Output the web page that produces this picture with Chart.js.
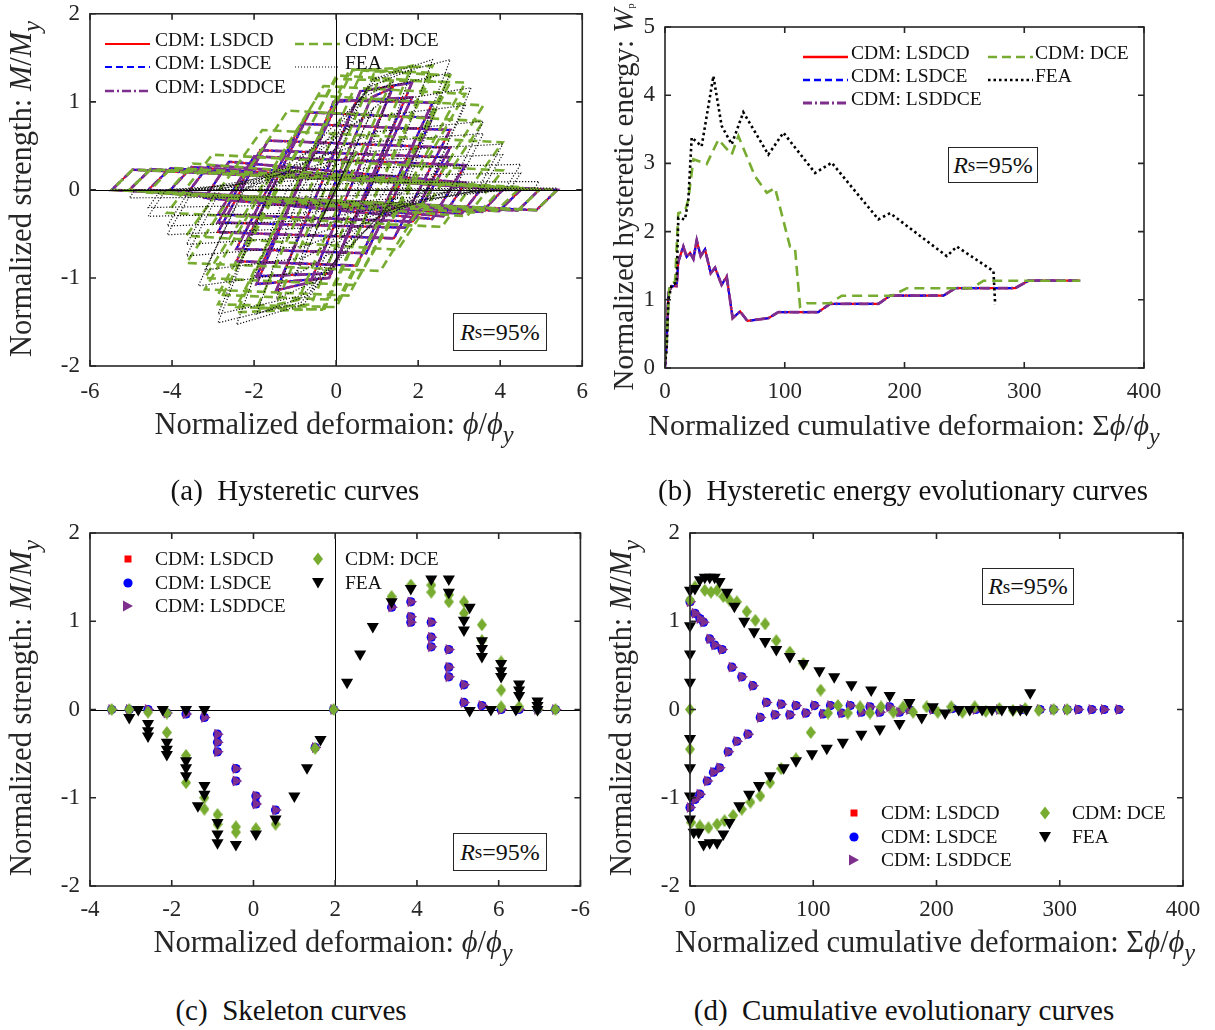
<!DOCTYPE html>
<html>
<head>
<meta charset="utf-8">
<script src="https://cdn.jsdelivr.net/npm/chart.js@4.4.0/dist/chart.umd.min.js"></script>
<style>
html,body{margin:0;padding:0;background:#fff;}
body{width:1215px;height:1030px;position:relative;overflow:hidden;}
canvas{position:absolute;}
.t{position:absolute;font-family:'Liberation Serif','Times New Roman',Times,serif;color:#262626;white-space:nowrap;line-height:1.15;z-index:5;}
.xt{font-size:30.5px;transform:translateX(-50%);}
.yt{font-size:30.5px;transform:translate(-50%,-50%) rotate(-90deg);}
.cap{font-size:29px;color:#111;transform:translateX(-50%);}
.sub{font-size:0.8em;position:relative;top:0.38em;}
.lg{font-size:19.5px;height:24px;line-height:24px;color:#111;}
.rs{position:absolute;border:1.2px solid #262626;background:#fff;font-family:'Liberation Serif','Times New Roman',Times,serif;font-size:24px;color:#111;display:flex;align-items:center;justify-content:center;z-index:5;box-sizing:border-box;}
.sw{position:absolute;z-index:5;}
</style>
</head>
<body>
<canvas id="ca" width="600" height="460" style="left:0px;top:-10px;"></canvas>
<canvas id="cb" width="615" height="460" style="left:600px;top:-10px;"></canvas>
<canvas id="cc" width="600" height="440" style="left:0px;top:500px;"></canvas>
<canvas id="cd" width="615" height="440" style="left:600px;top:500px;"></canvas>

<!-- axis titles -->
<div class="t yt" style="left:22px;top:189px;">Normalized strength: <i>M</i>/<i>M</i><span class="sub"><i>y</i></span></div>
<div class="t xt" style="left:334px;top:407px;">Normalized deformaion: <i>ϕ</i>/<i>ϕ</i><span class="sub"><i>y</i></span></div>
<div class="t cap" style="left:295px;top:474px;">(a)&nbsp; Hysteretic curves</div>

<div class="t yt" style="left:624px;top:197px;font-size:29px;">Normalized hysteretic energy: <i>W</i><span style="font-size:0.35em;position:relative;top:0.1em;">p</span></div>
<div class="t xt" style="left:904px;top:408px;font-size:30px;">Normalized cumulative deformaion: Σ<i>ϕ</i>/<i>ϕ</i><span class="sub"><i>y</i></span></div>
<div class="t cap" style="left:903px;top:474px;">(b)&nbsp; Hysteretic energy evolutionary curves</div>

<div class="t yt" style="left:22px;top:708px;">Normalized strength: <i>M</i>/<i>M</i><span class="sub"><i>y</i></span></div>
<div class="t xt" style="left:333px;top:925px;">Normalized deformaion: <i>ϕ</i>/<i>ϕ</i><span class="sub"><i>y</i></span></div>
<div class="t cap" style="left:291px;top:994px;">(c)&nbsp; Skeleton curves</div>

<div class="t yt" style="left:622px;top:708px;">Normalized strength: <i>M</i>/<i>M</i><span class="sub"><i>y</i></span></div>
<div class="t xt" style="left:935px;top:925px;">Normalized cumulative deformaion: Σ<i>ϕ</i>/<i>ϕ</i><span class="sub"><i>y</i></span></div>
<div class="t cap" style="left:904px;top:994px;">(d)&nbsp; Cumulative evolutionary curves</div>

<div class="rs" style="left:453px;top:313px;width:94px;height:38px;"><i>R</i><span style="font-size:0.8em">s</span>=95%</div>
<div class="rs" style="left:948px;top:147px;width:90px;height:36px;"><i>R</i><span style="font-size:0.8em">s</span>=95%</div>
<div class="rs" style="left:453px;top:833px;width:94px;height:38px;"><i>R</i><span style="font-size:0.8em">s</span>=95%</div>
<div class="rs" style="left:982px;top:568px;width:92px;height:37px;"><i>R</i><span style="font-size:0.8em">s</span>=95%</div>

<script>
// ---------------- DATA ----------------
// (a) Hysteretic curves: M/My vs phi/phiy (loop vertices)
const aCdmX = [0, 0.5, -0.49, 0.86, 1.38, -0.63, -1.46, 0.59, 1.85, -0.17, -1.94, -0.06, 1.85, -0.15, -1.94, 0.06, 2.35, 0.5, -2.43, -0.65, 2.35, 0.73, -2.43, -0.85, 2.78, 1.41, -2.88, -1.66, 2.78, 1.71, -2.88, -1.85, 2.78, 1.87, -2.88, -2.0, 3.15, 2.34, -3.2, -2.61, 3.15, 2.61, -3.65, -3.1, 3.59, 3.06, -4.12, -3.52, 4.06, 3.56, -4.58, -4.04, 4.5, 3.97, -5.04, -4.52, 4.95, 4.43, -5.47, -4.96, 5.39, 4.88, -5.47];
const aCdmY = [0, 0.44, -0.43, 1.05, 1.16, -1.05, -1.14, 1.12, 1.22, -1.0, -1.07, 1.0, 1.05, -0.95, -0.98, 1.02, 0.99, -0.86, -0.81, 0.88, 0.82, -0.72, -0.67, 0.75, 0.68, -0.55, -0.48, 0.56, 0.48, -0.43, -0.37, 0.45, 0.37, -0.36, -0.28, 0.38, 0.28, -0.33, -0.09, 0.32, 0.08, -0.3, -0.05, 0.28, 0.045, -0.27, -0.04, 0.26, 0, -0.25, 0, 0.245, 0, -0.24, 0, 0.235, 0, -0.235, 0, 0.23, 0, -0.23, 0];
const aDceX = [0, 0.5, -0.49, 1.0, 1.38, -0.92, -1.46, 0.92, 1.85, -0.61, -1.94, 0.64, 2.35, -0.28, -2.43, 0.33, 2.35, -0.34, -2.43, 0.4, 2.78, 0.01, -2.88, 0.01, 2.78, 0.04, -2.88, 0.0, 3.15, 0.3, -3.2, -0.31, 3.15, 0.44, -3.2, -0.44, 3.59, 1.08, -3.65, -1.18, 3.59, 1.5, -3.65, -1.8, 4.06, 2.58, -4.12, -3.02, 4.06, 3.19, -4.12, -3.5, 4.06, 3.48, -4.58, -4.02, 4.5, 3.9, -5.04, -4.52, 4.95, 4.44, -5.47, -4.96, 5.39, 4.88, -5.47];
const aDceY = [0, 0.44, -0.44, 1.2, 1.28, -1.25, -1.30, 1.32, 1.41, -1.3, -1.35, 1.36, 1.41, -1.35, -1.39, 1.37, 1.33, -1.36, -1.33, 1.36, 1.30, -1.33, -1.30, 1.3, 1.22, -1.25, -1.19, 1.26, 1.22, -1.2, -1.13, 1.18, 1.09, -1.08, -1.0, 1.07, 0.96, -0.92, -0.83, 0.9, 0.78, -0.68, -0.52, 0.68, 0.54, -0.42, -0.26, 0.4, 0.22, -0.3, -0.04, 0.3, 0.03, -0.26, -0.03, 0.25, 0.03, -0.24, 0, 0.235, 0, -0.23, 0, 0.23, 0, -0.23, 0];
const aFeaX = [0, 0.29, -0.36, 0.61, -0.69, 0.92, -1.0,
  -0.3, 0.62, 1.38, 0.51, -0.57, -1.46,
  -0.57, 0.76, 1.85, 0.84, -0.69, -1.94,
  -0.86, 0.9, 2.35, 1.21, -0.79, -2.43,
  -1.21, 0.98, 2.78, 1.6, -0.86, -2.88,
  -1.62, 0.8, 2.78, 1.67, -0.83, -2.88,
  -1.6, 1.09, 3.29, 2.24, -0.84, -3.36,
  -2.27, 0.71, 3.15, 2.19, -0.77, -3.2,
  -2.24, 0.97, 3.59, 2.77, -0.76, -3.65,
  -2.82, 0.71, 3.59, 2.88, -0.71, -3.65,
  -2.92, 0.92, 4.06, 3.45, -0.71, -4.12,
  -3.48, 0.67, 4.06, 3.56, -0.66, -4.12,
  -3.57, 0.87, 4.5, 4.11, -0.67, -4.58,
  -4.15, 0.61, 4.5, 4.23, -0.62, -4.58,
  -4.27, 0.8, 4.95, 4.8, -0.61, -5.04,
  -4.9, 5.39, 5.36, -5.47];
const aFeaY = [0, 0.31, -0.34, 0.63, -0.66, 0.94, -0.98,
  0, 1.04, 1.22, 0, -1.05, -1.24,
  0, 1.16, 1.37, 0, -1.2, -1.41,
  0, 1.26, 1.48, 0, -1.3, -1.53,
  0, 1.26, 1.48, 0, -1.28, -1.51,
  0, 1.13, 1.33, 0, -1.2, -1.41,
  0, 0.99, 1.16, 0, -0.93, -1.09,
  0, 0.82, 0.96, 0, -0.77, -0.91,
  0, 0.66, 0.78, 0, -0.64, -0.75,
  0, 0.54, 0.64, 0, -0.53, -0.62,
  0, 0.44, 0.52, 0, -0.43, -0.51,
  0, 0.34, 0.40, 0, -0.35, -0.41,
  0, 0.25, 0.29, 0, -0.26, -0.30,
  0, 0.16, 0.19, 0, -0.17, -0.2,
  0, 0.08, 0.095, 0, -0.08, -0.09,
  0, 0.02, 0, 0];

// (b) Hysteretic energy Wp vs cumulative deformation
const bCdmX = [0, 1.4, 2.8, 5.6, 9.7, 11.1, 15.3, 18.1, 20.9, 23.7, 26.5, 29.8, 33.4, 38.2, 41.8, 47.3, 51.5, 56.5, 62.7, 68.8, 86.3, 94.7, 128, 137.8, 178.2, 188, 232.5, 242.3, 292.4, 303.5, 346.7];
const bCdmY = [0.02, 0.37, 1.10, 1.20, 1.20, 1.56, 1.78, 1.63, 1.69, 1.60, 1.87, 1.64, 1.74, 1.39, 1.47, 1.22, 1.34, 0.73, 0.83, 0.69, 0.73, 0.82, 0.82, 0.94, 0.94, 1.06, 1.06, 1.17, 1.17, 1.28, 1.28];
const bDceX = [0, 1.4, 3.6, 8.4, 11.1, 16.7, 19.5, 23.7, 34.8, 44.6, 55.7, 61.3, 75.2, 85, 91.9, 104.4, 108.6, 112.8, 118.4, 138, 147.6, 189.4, 202, 256, 266, 346.7];
const bDceY = [0.1, 0.41, 1.2, 1.27, 2.27, 2.30, 2.47, 3.06, 2.99, 3.35, 3.13, 3.40, 2.81, 2.57, 2.64, 1.78, 1.75, 0.90, 0.95, 0.95, 1.06, 1.06, 1.17, 1.17, 1.28, 1.28];
const bFeaX = [0, 1.4, 2.8, 5.6, 9.7, 11.1, 16.7, 19.5, 22.3, 30.6, 40.4, 47.3, 55.7, 65.4, 86.3, 98.9, 125.3, 139.2, 178.2, 188, 235.3, 243.7, 274.3, 275.7];
const bFeaY = [0.05, 0.29, 1.0, 1.22, 1.25, 2.2, 2.18, 2.47, 3.38, 3.25, 4.28, 3.55, 3.28, 3.75, 3.13, 3.45, 2.86, 3.01, 2.18, 2.27, 1.64, 1.78, 1.42, 0.93];

// (c) Skeleton curves (x positions as on the plotted axis)
const cXTickLabels = ['-4', '-2', '0', '2', '4', '6', '-6'];
const cCdmX = [1.96, 3.38, 3.85, 3.85, 3.85, 4.35, 4.35, 4.35, 4.78, 4.78, 4.78, 5.15, 5.15, 5.59, 6.06, 6.5, 6.95, 7.39,
  -3.47, -3.04, -2.58, -2.12, -1.65, -1.2, -0.88, -0.88, -0.88, -0.43, -0.43, 0.06, 0.06, 0.54, 1.51];
const cCdmY = [0, 1.16, 1.22, 1.05, 0.99, 0.99, 0.82, 0.71, 0.68, 0.48, 0.37, 0.28, 0.08, 0.045, 0, 0, 0, 0,
  0, 0, 0, -0.04, -0.05, -0.09, -0.28, -0.37, -0.48, -0.67, -0.81, -0.98, -1.07, -1.14, -0.43];
const cDceX = [3.38, 3.85, 4.35, 4.35, 4.78, 4.78, 5.15, 5.15, 5.59, 5.59, 6.06, 6.06, 6.06, 6.5, 6.95, 7.39,
  -3.47, -3.04, -2.58, -2.12, -2.12, -1.65, -1.65, -1.2, -1.2, -0.88, -0.88, -0.43, -0.43, 0.06, 0.54, 1.51, 1.96];
const cDceY = [1.28, 1.41, 1.41, 1.33, 1.30, 1.22, 1.22, 1.09, 0.96, 0.78, 0.54, 0.22, 0.03, 0.03, 0, 0,
  0, 0, -0.03, -0.04, -0.26, -0.52, -0.83, -1.0, -1.13, -1.19, -1.30, -1.33, -1.39, -1.35, -1.30, -0.44, 0];
const cFeaX = [2.29, 2.61, 2.92, 3.38, 3.85, 4.35, 4.78, 4.78, 5.29, 5.15, 5.15, 5.59, 5.59, 5.59, 6.06, 6.06, 6.06, 6.5, 6.5, 6.5, 6.95, 6.95, 5.29, 5.81, 6.42, 6.95,
  -3.04, -2.82, -2.58, -2.58, -2.58, -2.22, -2.12, -2.12, -2.12, -1.65, -1.65, -1.65, -1.65, -1.2, -1.2, -1.2, -1.36, -0.88, -0.88, -0.88, -0.43, 0.06, 0.54, 1.0, 1.31, 1.64];
const cFeaY = [0.31, 0.63, 0.94, 1.22, 1.37, 1.48, 1.48, 1.33, 1.16, 1.01, 0.90, 0.78, 0.69, 0.60, 0.52, 0.44, 0.375, 0.29, 0.22, 0.16, 0.095, 0.045, -0.01, 0, 0, 0,
  -0.09, 0, -0.16, -0.24, -0.30, 0, -0.37, -0.45, -0.51, 0, -0.58, -0.66, -0.75, 0, -0.86, -0.96, -1.09, -1.28, -1.41, -1.51, -1.53, -1.41, -1.24, -0.98, -0.66, -0.34];

// (d) Cumulative evolutionary curves
const dCdmUpX = [0, 4, 8, 11, 16, 20, 26, 34, 42, 51, 62, 74, 86, 101, 114, 130, 146, 162, 178, 197, 213, 232, 251, 270, 284, 295, 306, 315, 326, 336, 348];
const dCdmUpY = [1.22, 1.09, 1.03, 0.99, 0.80, 0.73, 0.68, 0.48, 0.37, 0.27, 0.08, 0.06, 0.045, 0.045, 0.045, 0.045, 0.03, 0.03, 0, 0, 0.01, 0, 0, 0, 0, 0, 0, 0, 0, 0, 0];
const dCdmLowX = [0, 4, 8, 14, 19, 24, 31, 38, 47, 57, 69, 81, 94, 108, 123, 139, 154, 170];
const dCdmLowY = [-1.11, -1.02, -0.96, -0.81, -0.71, -0.66, -0.48, -0.36, -0.28, -0.09, -0.06, -0.06, -0.04, -0.05, -0.04, -0.03, -0.03, -0.03];
const dDceUpX = [0, 4, 12, 17, 22, 27, 32, 38, 46, 53, 61, 70, 81, 92, 106, 120, 138, 155, 173, 192, 212, 231, 251, 272, 295];
const dDceUpY = [1.24, 1.39, 1.35, 1.33, 1.35, 1.28, 1.24, 1.22, 1.11, 1.01, 0.97, 0.78, 0.65, 0.52, 0.22, 0.045, 0.03, 0.03, 0.03, 0.03, 0.03, 0.03, 0.01, 0.01, 0];
const dDceLowX = [0, 0, 1, 8, 15, 22, 28, 35, 42, 49, 57, 65, 74, 86, 98, 112, 128, 146, 165, 181, 201, 221, 240, 262, 283, 306];
const dDceLowY = [0, -0.45, -1.28, -1.32, -1.34, -1.30, -1.26, -1.20, -1.13, -1.05, -0.98, -0.83, -0.67, -0.56, -0.26, -0.04, -0.04, -0.04, -0.03, -0.03, -0.03, -0.03, -0.02, -0.01, -0.01, 0];
const dFeaUpX = [0, 0, 0, 0, 4, 8, 12, 16, 20, 24, 30, 36, 44, 52, 61, 70, 81, 92, 105, 117, 131, 147, 162, 178, 197, 218, 237, 253, 262, 273, 276];
const dFeaUpY = [1.35, 0.95, 0.63, 0.31, 1.37, 1.47, 1.50, 1.50, 1.50, 1.45, 1.33, 1.17, 1.0, 0.88, 0.77, 0.68, 0.60, 0.52, 0.44, 0.37, 0.28, 0.22, 0.16, 0.08, 0.03, 0, 0, 0, 0, 0, 0.19];
const dFeaLowX = [0, 0, 0, 0, 3, 7, 11, 16, 22, 27, 32, 40, 48, 56, 65, 76, 86, 99, 111, 124, 139, 154, 170, 188, 207, 227, 245, 268];
const dFeaLowY = [-0.33, -0.66, -0.98, -1.24, -1.39, -1.39, -1.53, -1.51, -1.51, -1.41, -1.28, -1.09, -0.96, -0.86, -0.75, -0.66, -0.58, -0.50, -0.44, -0.37, -0.28, -0.22, -0.16, -0.09, -0.04, 0, 0, 0];

// ---------------- STYLE ----------------
const FONT = "'Liberation Serif','Times New Roman',Times,serif";
const COL = {red:'#FF0000', blue:'#0000FF', purple:'#7E2F8E', green:'#77AC30', black:'#000000'};
const AXC = '#262626';

function pts(xs, ys) { return xs.map((x, i) => ({x: x, y: ys[i]})); }

const matlabBox = {
  id: 'matlabBox',
  beforeDatasetsDraw(chart, args, o) { if (o.zeroBelow) drawZero(chart, o); },
  afterDatasetsDraw(chart, args, o) {
    if (!o.zeroBelow) drawZero(chart, o);
    const ctx = chart.ctx, a = chart.chartArea, sx = chart.scales.x, sy = chart.scales.y;
    ctx.save();
    ctx.strokeStyle = AXC; ctx.lineWidth = 1.6; ctx.setLineDash([]);
    ctx.strokeRect(a.left, a.top, a.right - a.left, a.bottom - a.top);
    ctx.beginPath();
    const L = 6;
    sx.ticks.forEach(t => { const p = sx.getPixelForValue(t.value);
      ctx.moveTo(p, a.bottom); ctx.lineTo(p, a.bottom - L); ctx.moveTo(p, a.top); ctx.lineTo(p, a.top + L); });
    sy.ticks.forEach(t => { const p = sy.getPixelForValue(t.value);
      ctx.moveTo(a.left, p); ctx.lineTo(a.left + L, p); ctx.moveTo(a.right, p); ctx.lineTo(a.right - L, p); });
    ctx.stroke();
    ctx.restore();
  }
};
function drawZero(chart, o) {
  const ctx = chart.ctx, a = chart.chartArea, sx = chart.scales.x, sy = chart.scales.y;
  ctx.save(); ctx.strokeStyle = '#000'; ctx.lineWidth = 1; ctx.setLineDash([]);
  ctx.beginPath();
  if (o.zeroX !== undefined) { const p = Math.round(sx.getPixelForValue(o.zeroX)) + 0.5; ctx.moveTo(p, a.top); ctx.lineTo(p, a.bottom); }
  if (o.zeroY !== undefined) { const p = Math.round(sy.getPixelForValue(o.zeroY)) + 0.5; ctx.moveTo(a.left, p); ctx.lineTo(a.right, p); }
  ctx.stroke(); ctx.restore();
}

function axis(min, max, step, prop, size, pad, cb) {
  const ticks = {stepSize: step, autoSkip: false, maxRotation: 0, minRotation: 0, color: AXC,
    font: {family: FONT, size: 23}, padding: pad};
  if (cb) ticks.callback = cb;
  return {type: 'linear', min: min, max: max, ticks: ticks,
    grid: {display: false, drawTicks: false}, border: {display: false},
    afterFit: s => { s[prop] = size; }};
}

function baseOptions(pad, xAx, yAx, box) {
  return {
    responsive: false, animation: false, devicePixelRatio: 1, events: [],
    layout: {padding: pad},
    scales: {x: xAx, y: yAx},
    plugins: {legend: {display: false}, tooltip: {enabled: false}, matlabBox: box}
  };
}

function lineDs(data, color, width, dash, order) {
  return {data: data, showLine: true, borderColor: color, borderWidth: width, borderDash: dash,
    pointRadius: 0, fill: false, tension: 0, order: order};
}

// (a)
new Chart(document.getElementById('ca'), {
  type: 'scatter',
  data: {datasets: [
    lineDs(pts(aCdmX, aCdmY), COL.red, 2, [], 5),
    lineDs(pts(aCdmX, aCdmY), COL.blue, 2, [7, 4], 4),
    lineDs(pts(aCdmX, aCdmY), COL.purple, 2.8, [9, 2, 2, 2], 3),
    lineDs(pts(aDceX, aDceY), COL.green, 2.6, [9, 5], 2),
    lineDs(pts(aFeaX, aFeaY), '#111111', 1.2, [1.2, 1.8], 1)
  ]},
  options: baseOptions({left: 0, right: 17, top: 23, bottom: 0},
    axis(-6, 6, 2, 'height', 84, 12),
    axis(-2, 2, 1, 'width', 90, 10),
    {zeroX: 0, zeroY: 0, zeroBelow: false}),
  plugins: [matlabBox]
});

// (b)
new Chart(document.getElementById('cb'), {
  type: 'scatter',
  data: {datasets: [
    lineDs(pts(bCdmX, bCdmY), COL.red, 2.2, [], 5),
    lineDs(pts(bCdmX, bCdmY), COL.blue, 2.2, [7, 4], 4),
    lineDs(pts(bCdmX, bCdmY), COL.purple, 2.8, [10, 3, 2, 3], 3),
    lineDs(pts(bDceX, bDceY), COL.green, 2.6, [10, 6], 2),
    lineDs(pts(bFeaX, bFeaY), COL.black, 2.6, [2.5, 3], 1)
  ]},
  options: baseOptions({left: 0, right: 71, top: 37, bottom: 0},
    axis(0, 400, 100, 'height', 82, 10),
    axis(0, 5, 1, 'width', 65, 10),
    {}),
  plugins: [matlabBox]
});

function diamondImg(w, h, color) {
  const c = document.createElement('canvas'); c.width = w; c.height = h;
  const g = c.getContext('2d'); g.fillStyle = color; g.beginPath();
  g.moveTo(w / 2, 0); g.lineTo(w, h / 2); g.lineTo(w / 2, h); g.lineTo(0, h / 2); g.closePath(); g.fill();
  return c;
}
const DIAMOND = diamondImg(10, 13, COL.green);

function markerSets(cdm, dce, fea) {
  return [
    {data: cdm, pointStyle: 'rect', pointRadius: 5, backgroundColor: COL.red, borderWidth: 0, order: 5, clip: false},
    {data: cdm, pointStyle: 'circle', pointRadius: 4.6, backgroundColor: COL.blue, borderWidth: 0, order: 4, clip: false},
    {data: cdm, pointStyle: 'triangle', pointRotation: 90, pointRadius: 6.3, backgroundColor: COL.purple, borderWidth: 0, order: 3, clip: false},
    {data: dce, pointStyle: DIAMOND, pointRadius: 6, backgroundColor: COL.green, borderWidth: 0, order: 2, clip: false},
    {data: fea, pointStyle: 'triangle', pointRotation: 180, pointRadius: 7, backgroundColor: COL.black, borderWidth: 0, order: 1, clip: false}
  ];
}

// (c)
new Chart(document.getElementById('cc'), {
  type: 'scatter',
  data: {datasets: markerSets(pts(cCdmX, cCdmY), pts(cDceX, cDceY), pts(cFeaX, cFeaY))},
  options: baseOptions({left: 0, right: 17, top: 33, bottom: 0},
    axis(-4, 8, 2, 'height', 54, 10, v => cXTickLabels[Math.round((v + 4) / 2)]),
    axis(-2, 2, 1, 'width', 90, 10),
    {zeroX: 2, zeroY: 0, zeroBelow: true}),
  plugins: [matlabBox]
});

// (d)
new Chart(document.getElementById('cd'), {
  type: 'scatter',
  data: {datasets: markerSets(
    pts(dCdmUpX.concat(dCdmLowX), dCdmUpY.concat(dCdmLowY)),
    pts(dDceUpX.concat(dDceLowX), dDceUpY.concat(dDceLowY)),
    pts(dFeaUpX.concat(dFeaLowX), dFeaUpY.concat(dFeaLowY)))},
  options: baseOptions({left: 0, right: 32, top: 33, bottom: 0},
    axis(0, 400, 100, 'height', 54, 10),
    axis(-2, 2, 1, 'width', 90, 10),
    {}),
  plugins: [matlabBox]
});

// ---------------- LEGENDS (HTML) ----------------
const seriesNames = ['CDM: LSDCD', 'CDM: LSDCE', 'CDM: LSDDCE', 'CDM: DCE', 'FEA'];
const lineKeysA = [
  {c: COL.red, w: 2.2, d: ''}, {c: COL.blue, w: 2.2, d: '7 4'}, {c: COL.purple, w: 2.6, d: '9 3 2 3'},
  {c: COL.green, w: 2.6, d: '9 5'}, {c: COL.black, w: 1, d: '1 2'}];
const lineKeysB = [
  {c: COL.red, w: 2.4, d: ''}, {c: COL.blue, w: 2.4, d: '7 4'}, {c: COL.purple, w: 2.8, d: '9 3 2 3'},
  {c: COL.green, w: 2.6, d: '9 5'}, {c: COL.black, w: 2.6, d: '2.5 3'}];
function lineSvg(k) {
  return '<svg width="45" height="10"><line x1="0" y1="5" x2="45" y2="5" stroke="' + k.c + '" stroke-width="' + k.w +
    '" stroke-dasharray="' + k.d + '"/></svg>';
}
const markerSvgs = [
  '<svg width="14" height="14"><rect x="3.5" y="3.5" width="7" height="7" fill="' + COL.red + '"/></svg>',
  '<svg width="14" height="14"><circle cx="7" cy="7" r="4.6" fill="' + COL.blue + '"/></svg>',
  '<svg width="14" height="14"><polygon points="2,1.5 12,7 2,12.5" fill="' + COL.purple + '"/></svg>',
  '<svg width="14" height="14"><polygon points="7,0.5 12,7 7,13.5 2,7" fill="' + COL.green + '"/></svg>',
  '<svg width="14" height="14"><polygon points="1,2 13,2 7,12.5" fill="' + COL.black + '"/></svg>'];

function addLegend(cols, rows, swatches, swW, swOff) {
  const slots = [[0, 0], [0, 1], [0, 2], [1, 0], [1, 1]];
  slots.forEach((s, i) => {
    const col = cols[s[0]], ry = rows[s[1]];
    const sw = document.createElement('div');
    sw.className = 'sw'; sw.innerHTML = swatches[i];
    sw.style.left = (col.sx - swOff) + 'px'; sw.style.top = (ry - swW / 2) + 'px';
    document.body.appendChild(sw);
    const tx = document.createElement('div');
    tx.className = 't lg'; tx.textContent = seriesNames[i];
    tx.style.left = col.tx + 'px'; tx.style.top = (ry - 12) + 'px';
    document.body.appendChild(tx);
  });
}
addLegend([{sx: 105, tx: 155}, {sx: 295, tx: 345}], [40, 63, 87], lineKeysA.map(lineSvg), 10, 0);
addLegend([{sx: 803, tx: 851}, {sx: 988, tx: 1035}], [53, 76, 99], lineKeysB.map(lineSvg), 10, 0);
addLegend([{sx: 128, tx: 155}, {sx: 318, tx: 345}], [559, 583, 606], markerSvgs, 14, 7);
addLegend([{sx: 854, tx: 881}, {sx: 1045, tx: 1072}], [813, 837, 860], markerSvgs, 14, 7);
</script>
</body>
</html>
